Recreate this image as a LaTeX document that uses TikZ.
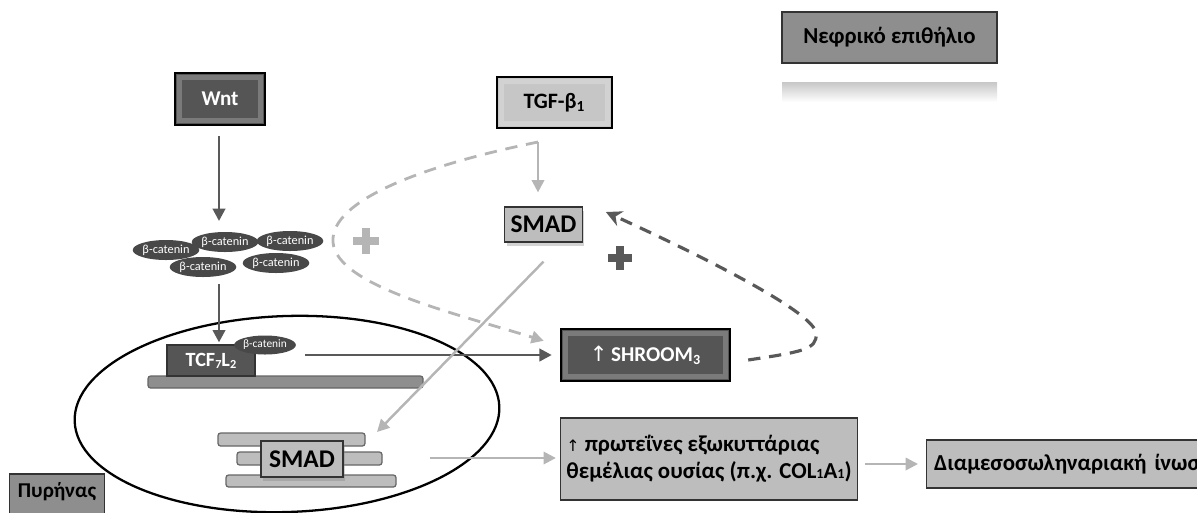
\documentclass[tikz,border=0pt]{standalone}
\usepackage{fontspec}
\setmainfont{Carlito}
\newfontfamily\symfont{DejaVu Sans}
\usetikzlibrary{arrows.meta,shadows,shapes.geometric}

\definecolor{boxdark}{HTML}{555555}
\definecolor{boxmid}{HTML}{8E8E8E}
\definecolor{boxlight}{HTML}{BDBDBD}
\definecolor{linedark}{HTML}{595959}
\definecolor{linelight}{HTML}{B5B5B5}

\begin{document}
\begin{tikzpicture}[x=0.02cm,y=-0.02cm,font=\fontsize{12}{14}\selectfont\bfseries]

                \useasboundingbox (0,0) rectangle (1197,512);

                \tikzset{bevel/.style = {path picture={\draw[white,opacity=0.22,line width=2.5pt]
                   ([shift={(2.5pt,-2.5pt)}]path picture bounding box.north west) rectangle
                   ([shift={(-2.5pt,2.5pt)}]path picture bounding box.south east);}}}
                \tikzset{darkbox/.style = {draw=black,line width=1.4pt,fill=boxdark,text=white,bevel}}
                \tikzset{lightbox/.style = {draw=black,line width=1.4pt,fill=boxlight!105!black,bevel}}
                \tikzset{flatbox/.style = {draw=black!80,line width=0.7pt,fill=boxlight}}
                \tikzset{smadbox/.style = {flatbox,font=\fontsize{14.5}{16}\selectfont\bfseries,
                   drop shadow={opacity=0.35,shadow xshift=1pt,shadow yshift=-2pt}}}
                \tikzset{catenin/.style = {ellipse,fill=boxdark!85!black,text=white,inner sep=0pt,
                   minimum width=1.1cm,minimum height=0.4cm,font=\fontsize{7}{8}\selectfont}}
                \tikzset{rod/.style = {draw=black!60,line width=0.7pt,rounded corners=1.5pt}}
                \tikzset{darkedge/.style = {-{Triangle[length=7pt,width=7pt]},draw=linedark,line width=1.6pt}}
                \tikzset{lightedge/.style = {-{Triangle[length=7pt,width=7pt]},draw=linelight,line width=1.4pt}}

                % nucleus
                \node[draw,ellipse,line width=1.3pt,inner sep=0pt,minimum width=8.5cm,minimum height=3.92cm,
                   rotate=2] (nucleus) at (287,414) {};
                \node[flatbox,fill=boxmid,minimum width=1.9cm,minimum height=0.96cm,text depth=0.32cm] (pyr)
                   at (57,498) {Πυρήνας};

                % legend
                \node[flatbox,fill=boxmid,minimum width=4.3cm,minimum height=1.02cm,
                   font=\fontsize{13}{15}\selectfont\bfseries] (kidney) at (889.5,37.5) {Νεφρικό επιθήλιο};
                \shade[top color=black!22,bottom color=white] (782,82) rectangle (997,102);

                % signals
                \node[darkbox,minimum width=1.8cm,minimum height=1.04cm] (wnt) at (220,99) {Wnt};
                \node[lightbox,minimum width=2.3cm,minimum height=1.02cm,
                   font=\fontsize{12.5}{14}\selectfont\bfseries] (tgf) at (554.5,102.5) {TGF-β\textsubscript{1}};
                \node[smadbox,minimum width=1.46cm,minimum height=0.7cm] (smad) at (543.5,224.5) {SMAD};

                \node[catenin] (cat1) at (166,250) {β-catenin};
                \node[catenin] (cat2) at (225,242) {β-catenin};
                \node[catenin] (cat3) at (290,241) {β-catenin};
                \node[catenin] (cat4) at (203,267) {β-catenin};
                \node[catenin] (cat5) at (276,263) {β-catenin};
                \coordinate (cattop) at (219,221);
                \coordinate (catbot) at (219,284);

                % inside the nucleus
                \draw[rod,fill=boxmid] (148,376) rectangle (423,388);
                \node[flatbox,fill=boxdark,text=white,minimum width=1.76cm,minimum height=0.62cm,
                   font=\fontsize{11.5}{13}\selectfont\bfseries] (tcf) at (211,360.5)
                   {TCF\raisebox{-1pt}{\scriptsize 7}L\raisebox{-1pt}{\scriptsize 2}};
                \node[catenin,minimum width=1.02cm,minimum height=0.38cm,font=\fontsize{6.5}{8}\selectfont] (tcfcat)
                   at (265,345) {β-catenin};

                \draw[rod,fill=boxlight] (218,433) rectangle (365,446) coordinate (rodone);
                \draw[rod,fill=boxlight] (237,452) rectangle (382,465);
                \draw[rod,fill=boxlight] (226,475) rectangle (396,487);
                \node[smadbox,minimum width=1.64cm,minimum height=0.72cm] (nsmad) at (302,459) {SMAD};

                % targets
                \node[darkbox,minimum width=3.38cm,minimum height=1.04cm] (shroom) at (645.5,355)
                   {{\symfont\mdseries ↑}\,SHROOM\textsubscript{3}};
                \node[flatbox,minimum width=5.6cm,minimum height=1.64cm,align=left,
                   font=\fontsize{13}{15.5}\selectfont\bfseries] (ecm) at (709,459)
                   {{\symfont\mdseries\small ↑} πρωτεΐνες εξωκυττάριας\\θεμέλιας ουσίας (π.χ. COL{\footnotesize 1}A{\footnotesize 1})};
                \node[flatbox,anchor=west,minimum width=6.4cm,minimum height=0.96cm,text width=6.1cm,
                   font=\fontsize{13}{15}\selectfont\bfseries] (fib) at (926,464) {Διαμεσοσωληναριακή ίνωση};

                % plus signs
                \fill[linelight] (353,237) rectangle (379,245);
                \fill[linelight] (362,228) rectangle (370,254);
                \fill[linedark] (608,254) rectangle (632,262);
                \fill[linedark] (616,246) rectangle (624,270);

                % connectors
                \coordinate (tgfout) at (538,142);
                \draw[darkedge,shorten <=0.2cm] ([xshift=-0.02cm]wnt.south) -- (cattop);
                \draw[darkedge,shorten >=0.04cm] (catbot) -- (catbot |- tcf.north);
                \draw[darkedge,shorten <=0.18cm,shorten >=0.16cm] (tcfcat.east |- shroom.west) -- (shroom.west);
                \draw[lightedge,shorten >=0.28cm] (tgfout) -- (tgfout |- smad.north);
                \draw[lightedge] ([yshift=-0.38cm]smad.south) -- ([shift={(0.24cm,0.02cm)}]rodone |- 0,433);
                \draw[lightedge,shorten >=0.08cm] (430,458) -- (ecm.west |- 430,458);
                \draw[lightedge,shorten <=0.14cm,shorten >=0.16cm] (ecm.east |- fib.west) -- (fib.west);

                \draw[-{Triangle[length=7pt,width=7pt]},draw=linelight,line width=1.6pt,dash pattern=on 7pt off 5pt]
                   (tgfout) .. controls (425,165) and (330,200) .. (333,242)
                   .. controls (336,285) and (450,312) .. ([shift={(-0.32cm,-0.26cm)}]shroom.north west);
                \draw[-{Stealth[length=9pt,width=9pt]},draw=linedark,line width=1.8pt,dash pattern=on 7pt off 5pt]
                   ([shift={(0.34cm,-0.1cm)}]shroom.east) .. controls (800,352) and (818,350) .. (816,333)
                   .. controls (814,312) and (700,255) .. ([shift={(0.46cm,0.25cm)}]smad.east);

            \end{tikzpicture}
\end{document}
